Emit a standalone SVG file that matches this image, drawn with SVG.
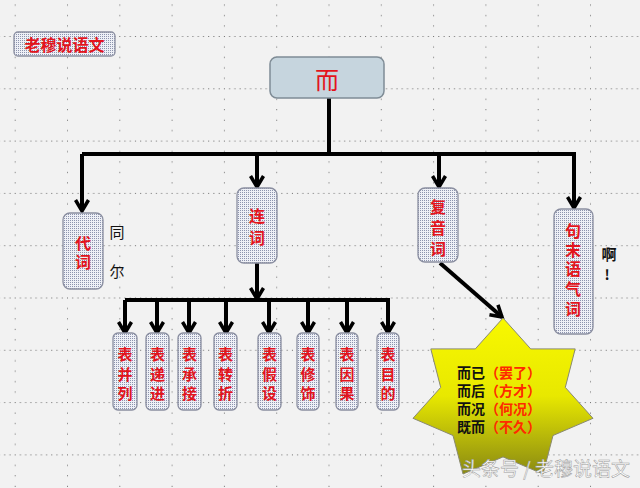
<svg xmlns="http://www.w3.org/2000/svg" width="640" height="488" viewBox="0 0 640 488">
<style>
.bg{fill:#f2f2f2}
.node{fill:url(#tex);stroke:#8a8ea0;stroke-width:1.3}
.t{font-family:"Noto Sans CJK SC","Liberation Sans",sans-serif;font-weight:bold;fill:#e3141c;text-anchor:middle;dominant-baseline:central}
.tn{font-family:"Noto Sans CJK SC","Liberation Sans",sans-serif;font-weight:normal;fill:#e3141c;text-anchor:middle;dominant-baseline:central}
.tb{font-family:"Noto Sans CJK SC","Liberation Sans",sans-serif;fill:#111;text-anchor:middle;dominant-baseline:central}
.conn{stroke:#000;stroke-width:4;fill:none}
.arr{marker-end:url(#ah)}
.st{font-family:"Noto Sans CJK SC","Liberation Sans",sans-serif;font-size:14px;font-weight:bold;dominant-baseline:central}
</style>
<defs>
<pattern id="grid" x="14.7" y="36" width="52.3" height="52.3" patternUnits="userSpaceOnUse">
<g fill="#6a6a6a">
<rect x="0" y="0" width="1" height="1"/><rect x="5.2" y="0" width="1" height="1"/><rect x="10.5" y="0" width="1" height="1"/><rect x="15.7" y="0" width="1" height="1"/><rect x="20.9" y="0" width="1" height="1"/><rect x="26.2" y="0" width="1" height="1"/><rect x="31.4" y="0" width="1" height="1"/><rect x="36.6" y="0" width="1" height="1"/><rect x="41.8" y="0" width="1" height="1"/><rect x="47.1" y="0" width="1" height="1"/>
<rect x="0" y="10.5" width="1" height="1"/><rect x="0" y="20.9" width="1" height="1"/><rect x="0" y="31.4" width="1" height="1"/><rect x="0" y="41.8" width="1" height="1"/>
</g>
</pattern>
<pattern id="tex" x="0" y="0" width="2" height="2" patternUnits="userSpaceOnUse">
<rect width="2" height="2" fill="#eef0f6"/><rect width="1" height="1" fill="#8c93ad"/>
</pattern>
<linearGradient id="starg" x1="0" y1="0" x2="0" y2="1">
<stop offset="0" stop-color="#f8f800"/>
<stop offset="0.5" stop-color="#e8e800"/>
<stop offset="1" stop-color="#8a8a12"/>
</linearGradient>
<marker id="ah" viewBox="0 0 16 16" refX="13" refY="8" markerWidth="16" markerHeight="16" markerUnits="userSpaceOnUse" orient="auto">
<path d="M2,1.5 L13,8 L2,14.5" fill="none" stroke="#000" stroke-width="3.5" stroke-linejoin="miter"/>
</marker>
</defs>
<rect class="bg" x="0" y="0" width="640" height="488"/>
<rect x="0" y="0" width="640" height="488" fill="url(#grid)"/>

<g id="connectors">
<path class="conn" d="M329,98 V154"/>
<path class="conn" d="M82,154 H575"/>
<path class="conn arr" d="M82,154 V211"/>
<path class="conn arr" d="M257,154 V187"/>
<path class="conn arr" d="M439,154 V187"/>
<path class="conn arr" d="M574,152 V208"/>
<path class="conn arr" d="M257,263 V299"/>
<path class="conn" d="M125,300 H388"/>
<path class="conn arr" d="M125,300 V333"/>
<path class="conn arr" d="M157,300 V333"/>
<path class="conn arr" d="M189,300 V333"/>
<path class="conn arr" d="M226,300 V333"/>
<path class="conn arr" d="M269,300 V333"/>
<path class="conn arr" d="M308,300 V333"/>
<path class="conn arr" d="M347,300 V333"/>
<path class="conn arr" d="M388,298 V333"/>
<path class="conn arr" d="M440,263 L502,317"/>
</g>

<g id="title">
<rect x="14" y="32" width="101" height="24" rx="4" fill="url(#tex)" stroke="#8a8ea0" stroke-width="1.3"/>
<text class="t" x="64.5" y="44" font-size="16">老穆说语文</text>
</g>

<g id="root">
<rect x="270" y="57" width="114" height="41" rx="7" fill="#c6d5de" stroke="#7f8c96" stroke-width="1.5"/>
<text class="tn" x="327" y="78" font-size="24">而</text>
</g>

<g id="daici">
<rect class="node" x="63" y="213" width="40" height="76" rx="7"/>
<text class="t" x="83" y="242" font-size="16">代</text>
<text class="t" x="83" y="261" font-size="16">词</text>
</g>
<g id="tonger">
<text class="tb" x="117" y="231" font-size="15">同</text>
<text class="tb" x="117" y="270" font-size="15">尔</text>
</g>

<g id="lianci">
<rect class="node" x="237" y="188" width="40" height="75" rx="7"/>
<text class="t" x="257" y="215" font-size="16">连</text>
<text class="t" x="257" y="237" font-size="16">词</text>
</g>

<g id="fuyinci">
<rect class="node" x="418" y="188" width="40" height="74" rx="7"/>
<text class="t" x="438" y="206" font-size="16">复</text>
<text class="t" x="438" y="227" font-size="16">音</text>
<text class="t" x="438" y="248" font-size="16">词</text>
</g>

<g id="jumo">
<rect class="node" x="554" y="209" width="39" height="125" rx="7"/>
<text class="t" x="573" y="230" font-size="16">句</text>
<text class="t" x="573" y="249" font-size="16">末</text>
<text class="t" x="573" y="268" font-size="16">语</text>
<text class="t" x="573" y="288" font-size="16">气</text>
<text class="t" x="573" y="308" font-size="16">词</text>
</g>
<g id="a">
<text class="tb" x="609" y="253" font-size="15" font-weight="bold">啊</text>
<text class="tb" x="607" y="274" font-size="14" font-weight="bold">!</text>
</g>

<g id="bingli">
<rect class="node" x="113" y="333" width="24" height="77" rx="5"/>
<text class="t" x="125" y="353" font-size="15">表</text>
<text class="t" x="125" y="373" font-size="15">并</text>
<text class="t" x="125" y="392" font-size="15">列</text>
</g>
<g id="dijin">
<rect class="node" x="146" y="333" width="23" height="77" rx="5"/>
<text class="t" x="157.5" y="353" font-size="15">表</text>
<text class="t" x="157.5" y="373" font-size="15">递</text>
<text class="t" x="157.5" y="392" font-size="15">进</text>
</g>
<g id="chengjie">
<rect class="node" x="178" y="333" width="23" height="77" rx="5"/>
<text class="t" x="189.5" y="353" font-size="15">表</text>
<text class="t" x="189.5" y="373" font-size="15">承</text>
<text class="t" x="189.5" y="392" font-size="15">接</text>
</g>
<g id="zhuanzhe">
<rect class="node" x="214" y="333" width="23" height="77" rx="5"/>
<text class="t" x="225.5" y="353" font-size="15">表</text>
<text class="t" x="225.5" y="373" font-size="15">转</text>
<text class="t" x="225.5" y="392" font-size="15">折</text>
</g>
<g id="jiashe">
<rect class="node" x="258" y="333" width="23" height="77" rx="5"/>
<text class="t" x="269.5" y="353" font-size="15">表</text>
<text class="t" x="269.5" y="373" font-size="15">假</text>
<text class="t" x="269.5" y="392" font-size="15">设</text>
</g>
<g id="xiushi">
<rect class="node" x="297" y="333" width="22" height="77" rx="5"/>
<text class="t" x="308" y="353" font-size="15">表</text>
<text class="t" x="308" y="373" font-size="15">修</text>
<text class="t" x="308" y="392" font-size="15">饰</text>
</g>
<g id="yinguo">
<rect class="node" x="336" y="333" width="22" height="77" rx="5"/>
<text class="t" x="347" y="353" font-size="15">表</text>
<text class="t" x="347" y="373" font-size="15">因</text>
<text class="t" x="347" y="392" font-size="15">果</text>
</g>
<g id="mudi">
<rect class="node" x="377" y="333" width="22" height="77" rx="5"/>
<text class="t" x="388" y="353" font-size="15">表</text>
<text class="t" x="388" y="373" font-size="15">目</text>
<text class="t" x="388" y="392" font-size="15">的</text>
</g>

<g id="star">
<path d="M503,318 L530.7,348.9 L575.2,348.9 L565.3,387.4 L593,418.3 L553,435.5 L543,474 L503,456.9 L463,474 L453,435.5 L413,418.3 L440.7,387.4 L430.8,348.9 L475.3,348.9 Z" fill="url(#starg)" stroke="#8a8a70" stroke-width="1"/>
<text class="st" x="457" y="372"><tspan fill="#111">而已</tspan><tspan fill="#ff2a00">（罢了）</tspan></text>
<text class="st" x="457" y="390"><tspan fill="#111">而后</tspan><tspan fill="#ff2a00">（方才）</tspan></text>
<text class="st" x="457" y="408"><tspan fill="#111">而况</tspan><tspan fill="#ff2a00">（何况）</tspan></text>
<text class="st" x="457" y="426"><tspan fill="#111">既而</tspan><tspan fill="#ff2a00">（不久）</tspan></text>
</g>

<g id="watermark">
<text x="462" y="476" font-family="Noto Sans CJK SC, sans-serif" font-size="19" fill="#ffffff" stroke="#9a9a9a" stroke-width="0.5">头条号 / 老穆说语文</text>
</g>
</svg>
